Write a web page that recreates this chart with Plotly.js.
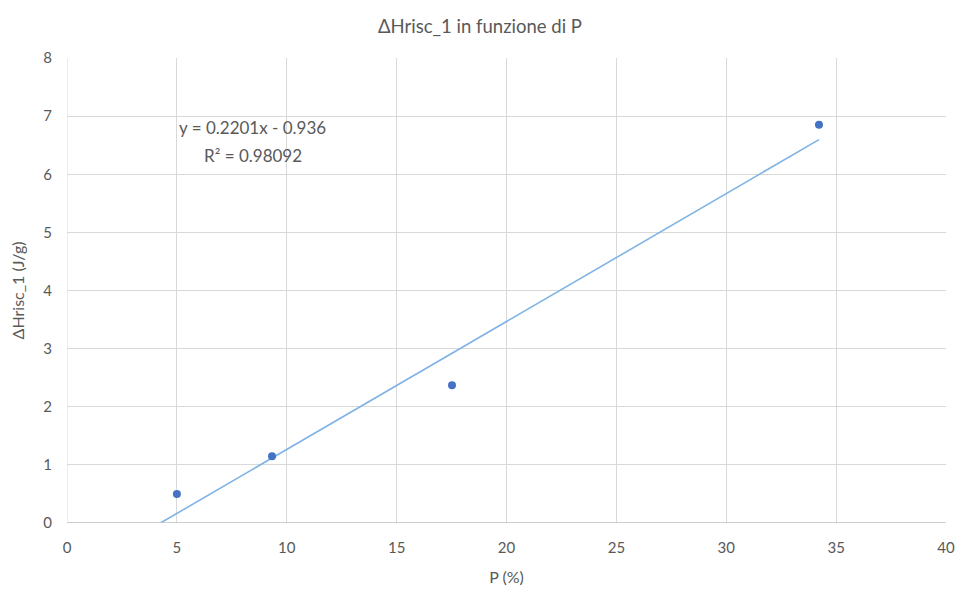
<!DOCTYPE html>
<html>
<head>
<meta charset="utf-8">
<script src="https://cdn.plot.ly/plotly-3.0.1.min.js"></script>
<style>
  html, body { margin: 0; padding: 0; background: #ffffff; }
  #chart { width: 960px; height: 590px; }
</style>
</head>
<body>
<div id="chart"></div>
<script>
// Measured samples: P (%) against ΔHrisc_1 (J/g)
const pValues = [5.0, 9.33, 17.52, 34.22];
const dHValues = [0.5, 1.15, 2.37, 6.85];

// Linear trendline as reported in the equation label
const trendSlope = 0.2201;
const trendIntercept = -0.936;
const trendR2 = 0.98092;

const xTicks = [0, 5, 10, 15, 20, 25, 30, 35, 40];
const yTicks = [0, 1, 2, 3, 4, 5, 6, 7, 8];

// The trendline is drawn from where it crosses y = 0 up to the last sample
const xStart = -trendIntercept / trendSlope;
const xEnd = Math.max(...pValues);
const trendX = [xStart, xEnd];
const trendY = trendX.map(x => trendSlope * x + trendIntercept);

const textColor = '#595959';
const fontFamily = 'Lato, "Open Sans", sans-serif';

const traces = [
  {
    x: trendX, y: trendY,
    type: 'scatter', mode: 'lines',
    line: { color: '#7fb3e6', width: 1.6 },
    hoverinfo: 'skip', showlegend: false
  },
  {
    x: pValues, y: dHValues,
    type: 'scatter', mode: 'markers',
    marker: { color: '#4472c4', size: 8 },
    showlegend: false
  }
];

const layout = {
  width: 960, height: 590,
  paper_bgcolor: '#ffffff', plot_bgcolor: '#ffffff',
  margin: { l: 67, r: 14, t: 58, b: 67 },
  font: { family: fontFamily, color: textColor, size: 15 },
  title: {
    text: 'ΔHrisc_1 in funzione di P',
    font: { family: fontFamily, size: 18.5, color: textColor },
    x: 0.5, xanchor: 'center', y: 0.955, yanchor: 'middle'
  },
  xaxis: {
    range: [0, 40],
    tickvals: xTicks, ticktext: xTicks.map(String),
    showgrid: true, gridcolor: '#d9d9d9', gridwidth: 1,
    zeroline: false, showline: false, ticks: '',
    tickfont: { size: 15, color: textColor },
    ticklabelstandoff: 14,
    title: { text: 'P (%)', font: { size: 16, color: textColor }, standoff: 16 }
  },
  yaxis: {
    range: [0, 8],
    tickvals: yTicks, ticktext: yTicks.map(String),
    showgrid: true, gridcolor: '#d9d9d9', gridwidth: 1,
    zeroline: false, showline: false, ticks: '',
    tickfont: { size: 15, color: textColor },
    ticklabelstandoff: 14,
    title: { text: 'ΔHrisc_1 (J/g)', font: { size: 16, color: textColor }, standoff: 14 }
  },
  shapes: [
    // bottom axis line
    { type: 'line', xref: 'paper', yref: 'y', x0: 0, x1: 1, y0: 0, y1: 0,
      line: { color: '#bfbfbf', width: 1.3 } },
    // left edge gridline
    { type: 'line', xref: 'x', yref: 'paper', x0: 0, x1: 0, y0: 0, y1: 1,
      line: { color: '#d9d9d9', width: 1 }, layer: 'below' }
  ],
  annotations: [
    {
      xref: 'x', yref: 'y', x: 8.45, y: 6.8,
      text: 'y = ' + trendSlope + 'x - ' + Math.abs(trendIntercept),
      showarrow: false, xanchor: 'center', yanchor: 'middle',
      font: { size: 17, color: textColor }
    },
    {
      xref: 'x', yref: 'y', x: 8.45, y: 6.33,
      text: 'R² = ' + trendR2,
      showarrow: false, xanchor: 'center', yanchor: 'middle',
      font: { size: 17, color: textColor }
    }
  ]
};

Plotly.newPlot('chart', traces, layout, { displayModeBar: false, staticPlot: true });
</script>
</body>
</html>
